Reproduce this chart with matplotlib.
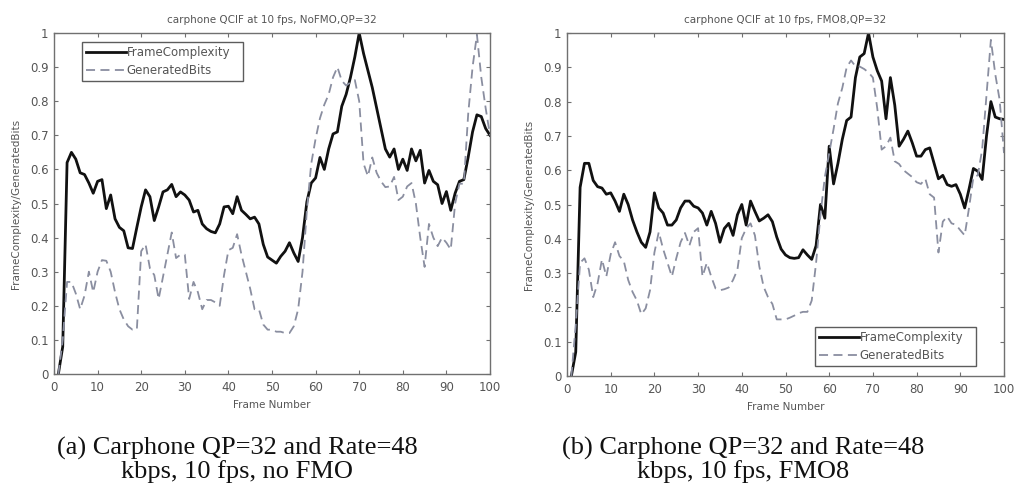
import numpy as np
import matplotlib
matplotlib.use("Agg")
import matplotlib.pyplot as plt
from matplotlib.ticker import FuncFormatter

frames = list(range(1, 101))

# (a) no FMO
fc_a = [0.0, 0.08, 0.62, 0.65, 0.63, 0.59, 0.585, 0.56, 0.53, 0.565,
        0.57, 0.485, 0.525, 0.455, 0.43, 0.42, 0.37, 0.368, 0.43, 0.49,
        0.54, 0.52, 0.45, 0.49, 0.534, 0.54, 0.556, 0.52, 0.534, 0.525,
        0.51, 0.475, 0.48, 0.44, 0.426, 0.418, 0.414, 0.44, 0.49, 0.492,
        0.47, 0.52, 0.48, 0.468, 0.455, 0.46, 0.44, 0.38, 0.343, 0.334,
        0.325, 0.345, 0.36, 0.385, 0.355, 0.33, 0.40, 0.505, 0.56, 0.575,
        0.635, 0.60, 0.66, 0.704, 0.71, 0.785, 0.82, 0.87, 0.93, 1.0,
        0.94, 0.89, 0.84, 0.78, 0.72, 0.66, 0.636, 0.66, 0.60, 0.63,
        0.597, 0.66, 0.625, 0.656, 0.56, 0.597, 0.565, 0.555, 0.50, 0.535,
        0.48, 0.53, 0.565, 0.57, 0.636, 0.71, 0.76, 0.755, 0.72, 0.70]
gb_a = [0.0, 0.1, 0.27, 0.27, 0.236, 0.19, 0.23, 0.30, 0.24, 0.30,
        0.334, 0.332, 0.30, 0.24, 0.19, 0.16, 0.14, 0.13, 0.13, 0.36,
        0.38, 0.31, 0.29, 0.22, 0.285, 0.35, 0.415, 0.34, 0.35, 0.35,
        0.22, 0.27, 0.24, 0.19, 0.217, 0.217, 0.21, 0.20, 0.29, 0.363,
        0.37, 0.41, 0.35, 0.30, 0.25, 0.19, 0.19, 0.145, 0.13, 0.13,
        0.124, 0.124, 0.12, 0.12, 0.14, 0.19, 0.30, 0.48, 0.617, 0.69,
        0.75, 0.79, 0.82, 0.87, 0.90, 0.86, 0.846, 0.855, 0.862, 0.80,
        0.617, 0.58, 0.635, 0.59, 0.565, 0.548, 0.55, 0.578, 0.51, 0.52,
        0.55, 0.56, 0.50, 0.40, 0.314, 0.44, 0.40, 0.375, 0.40, 0.385,
        0.365, 0.50, 0.558, 0.558, 0.763, 0.90, 0.995, 0.87, 0.78, 0.70]

# (b) FMO8
fc_b = [0.0, 0.07, 0.55, 0.62, 0.62, 0.57, 0.552, 0.548, 0.53, 0.534,
        0.51, 0.48, 0.53, 0.50, 0.455, 0.42, 0.39, 0.375, 0.42, 0.534,
        0.49, 0.475, 0.44, 0.44, 0.455, 0.49, 0.51, 0.51, 0.495, 0.49,
        0.475, 0.44, 0.48, 0.445, 0.39, 0.43, 0.445, 0.41, 0.47, 0.50,
        0.44, 0.51, 0.48, 0.452, 0.46, 0.47, 0.45, 0.405, 0.37, 0.353,
        0.345, 0.343, 0.345, 0.368, 0.353, 0.34, 0.38, 0.50, 0.46, 0.67,
        0.56, 0.62, 0.69, 0.745, 0.755, 0.87, 0.93, 0.94, 1.0, 0.93,
        0.89, 0.86, 0.75, 0.87, 0.79, 0.67, 0.69, 0.714, 0.68, 0.641,
        0.641, 0.66, 0.665, 0.62, 0.575, 0.585, 0.558, 0.553, 0.558, 0.53,
        0.49, 0.545, 0.605, 0.597, 0.573, 0.70, 0.80, 0.755, 0.75, 0.748]
gb_b = [0.0, 0.15, 0.33, 0.343, 0.31, 0.23, 0.27, 0.34, 0.29, 0.355,
        0.39, 0.35, 0.335, 0.28, 0.245, 0.22, 0.18, 0.197, 0.25, 0.36,
        0.42, 0.37, 0.33, 0.29, 0.343, 0.39, 0.417, 0.38, 0.42, 0.431,
        0.29, 0.33, 0.29, 0.255, 0.25, 0.253, 0.258, 0.28, 0.31, 0.402,
        0.43, 0.445, 0.41, 0.32, 0.26, 0.23, 0.21, 0.165, 0.165, 0.165,
        0.17, 0.176, 0.183, 0.187, 0.187, 0.22, 0.33, 0.47, 0.58, 0.65,
        0.72, 0.795, 0.84, 0.90, 0.92, 0.903, 0.902, 0.895, 0.885, 0.87,
        0.78, 0.66, 0.67, 0.695, 0.626, 0.618, 0.60, 0.59, 0.58, 0.565,
        0.56, 0.575, 0.53, 0.52, 0.36, 0.45, 0.465, 0.445, 0.441, 0.425,
        0.41, 0.49, 0.58, 0.585, 0.66, 0.82, 0.98, 0.88, 0.805, 0.65]

titles = ["carphone QCIF at 10 fps, NoFMO,QP=32",
          "carphone QCIF at 10 fps, FMO8,QP=32"]
captions = ["(a) Carphone QP=32 and Rate=48\nkbps, 10 fps, no FMO",
            "(b) Carphone QP=32 and Rate=48\nkbps, 10 fps, FMO8"]
x_ticks = list(range(0, 101, 10))
y_ticks = [round(0.1 * i, 1) for i in range(11)]

W, H = 1015, 486
fig = plt.figure(figsize=(W / 100, H / 100), dpi=100)
fig.patch.set_facecolor("white")

txt = "#555555"
frame_col = "#707070"
dash_col = "#8a8ea0"

# axes boxes in pixels (left, top, width, height)
boxes = [(54, 33, 436, 341), (567, 33, 437, 343)]
# legend boxes in pixels (left, top)
legend_px = [(82, 40), (815, 325)]
legend_size = (161, 43)
caption_x = [237, 743]

series = [(fc_a, gb_a), (fc_b, gb_b)]

for i, (px, py, pw, ph) in enumerate(boxes):
    ax = fig.add_axes([px / W, 1 - (py + ph) / H, pw / W, ph / H])
    fc, gb = series[i]
    ax.plot(frames, fc, color="#111111", lw=2.0, label="FrameComplexity")
    ax.plot(frames, gb, color=dash_col, lw=1.3, ls=(0, (5, 3)),
            label="GeneratedBits")
    ax.set_xlim(0, 100)
    ax.set_ylim(0, 1)
    ax.set_xticks(x_ticks)
    ax.set_yticks(y_ticks)
    ax.yaxis.set_major_formatter(FuncFormatter(lambda v, p: f"{v:g}"))
    ax.tick_params(direction="in", length=3, width=0.8, colors=frame_col,
                   labelcolor=txt, labelsize=8.5, top=True, right=True)
    ax.tick_params(axis="x", pad=5)
    ax.tick_params(axis="y", pad=4)
    for s in ax.spines.values():
        s.set_color(frame_col)
        s.set_linewidth(1.0)
    ax.set_title(titles[i], fontsize=7.5, color=txt, pad=7)
    ax.set_xlabel("Frame Number", fontsize=7.5, color=txt, labelpad=4)
    ax.set_ylabel("FrameComplexity/GeneratedBits", fontsize=7.5, color=txt,
                  labelpad=6)

    lx, ly = legend_px[i]
    lw_, lh_ = legend_size
    anchor = ((lx - px) / pw, 1 - (ly + lh_ - py) / ph, lw_ / pw, lh_ / ph)
    leg = ax.legend(loc="center", bbox_to_anchor=anchor, mode="expand",
                    fontsize=8.5, frameon=True, fancybox=False,
                    edgecolor="#333333", handlelength=3.4,
                    handletextpad=0.05, borderpad=0.35, labelspacing=0.45,
                    borderaxespad=0)
    for t in leg.get_texts():
        t.set_color(txt)
    leg.get_frame().set_linewidth(1.0)

    fig.text(caption_x[i] / W, 1 - 460 / H, captions[i], ha="center",
             va="center", fontsize=19, family="Liberation Serif",
             color="#111111", linespacing=1.05)

fig.savefig("out.png", dpi=100, facecolor="white")
